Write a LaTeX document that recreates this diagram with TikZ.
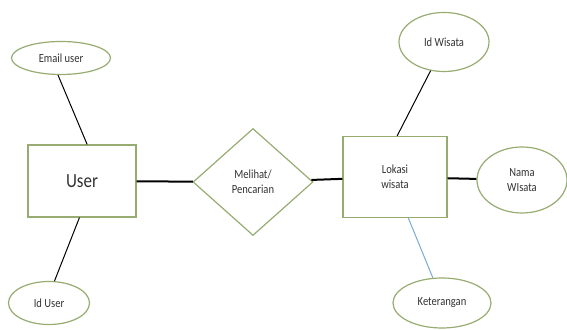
\documentclass[tikz,border=0pt]{standalone}
\usepackage{fontspec}
\setmainfont{Carlito}[FakeStretch=0.85]
\usetikzlibrary{shapes.geometric}
\definecolor{erline}{RGB}{150,172,112}
\definecolor{ertext}{RGB}{50,50,50}
\definecolor{softblue}{RGB}{120,170,210}
\begin{document}
\begin{tikzpicture}[x=0.5pt,y=-0.5pt,
    entity node/.style={rectangle,draw=erline,line width=0.6pt,text=ertext,align=center,inner sep=0pt},
    attr node/.style={ellipse,draw=erline,line width=0.6pt,text=ertext,align=center,inner sep=0pt,font=\fontsize{6.2}{7.5}\selectfont},
    rel node/.style={diamond,draw=erline,line width=0.6pt,text=ertext,align=center,inner sep=0pt,font=\fontsize{6.2}{7.5}\selectfont}]
                \useasboundingbox (0,0) rectangle (567,330);
                \node[entity node,minimum width=54pt,minimum height=36pt,font=\fontsize{10}{12}\selectfont] at (82,181) (user) {User};
                \node[entity node,minimum width=52pt,minimum height=40.5pt,font=\fontsize{6.2}{7.5}\selectfont] at (395,177) (lokasi) {Lokasi\\wisata};
                \node[rel node,minimum width=60pt,minimum height=53.5pt] at (253,182) (lihat) {Melihat/\\Pencarian};
                \node[attr node,minimum width=49.5pt,minimum height=16.5pt] at (61,58) (email) {Email user};
                \node[attr node,minimum width=40.5pt,minimum height=21.5pt] at (49,303) (iduser) {Id User};
                \node[attr node,minimum width=45pt,minimum height=29.5pt] at (444,42) (idwisata) {Id Wisata};
                \node[attr node,minimum width=45pt,minimum height=33pt] at (522,180) (nama) {Nama\\WIsata};
                \node[attr node,minimum width=49pt,minimum height=25pt] at (442,303) (ket) {Keterangan};

                \path[line width=0.5pt] (email.-100) edge (user.82)
                    (iduser.76) edge (user.-94)
                    (idwisata.-115) edge (lokasi.87);
                \path[line width=1pt] (user) edge (lihat)
                    (lihat) edge (lokasi)
                    (lokasi) edge (nama);
                \path[softblue,line width=0.5pt] (lokasi.-72) edge (ket.110);
            \end{tikzpicture}
\end{document}
